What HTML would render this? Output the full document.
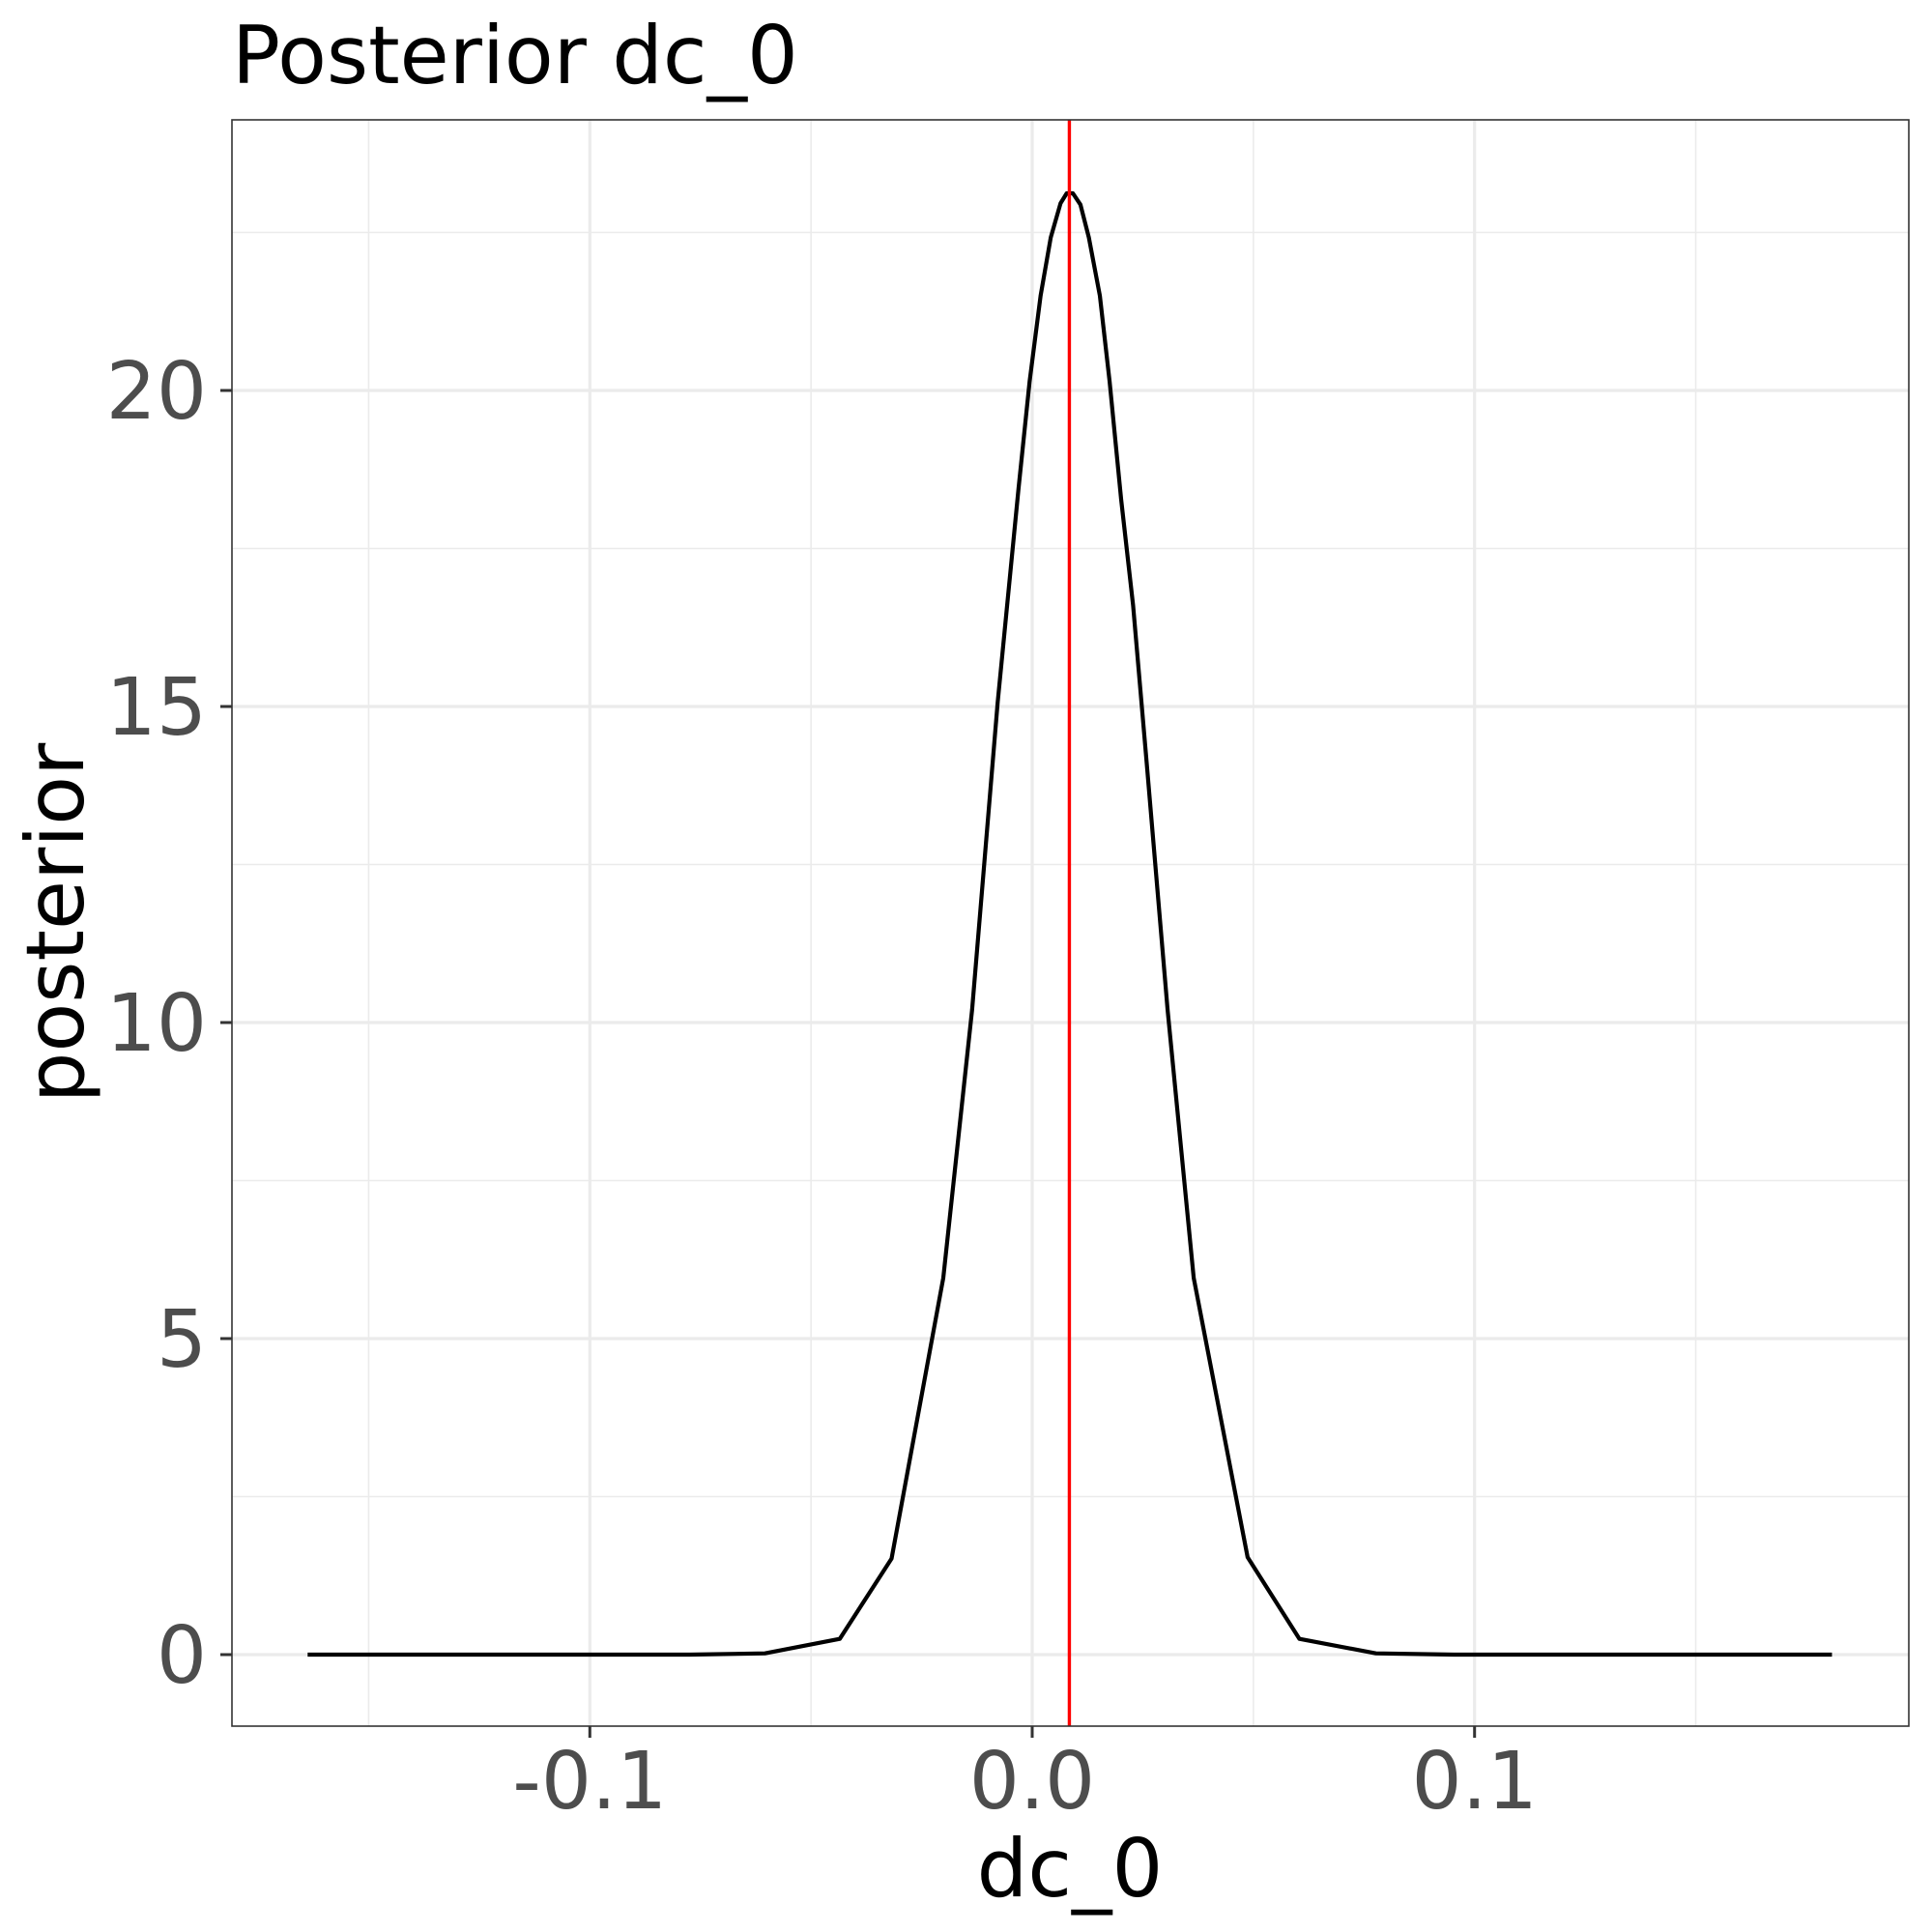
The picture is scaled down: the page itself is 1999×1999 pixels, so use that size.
<!DOCTYPE html>
<html><head><meta charset="utf-8"><style>
html,body{margin:0;padding:0;background:#fff}
svg{display:block;font-family:"DejaVu Sans","Liberation Sans",sans-serif}
</style></head><body>
<svg id="chart" width="1999" height="1999" viewBox="0 0 1999 1999">
<text x="240" y="86" font-size="83" fill="#000">Posterior dc_0</text>
<g id="grid"></g>
<g id="marks"></g>
<rect x="240" y="124" width="1735" height="1662" fill="none" stroke="#333" stroke-width="1.6"/>
<g id="axes"></g>
<text x="1107" y="1962" font-size="83" text-anchor="middle" fill="#000">dc_0</text>
<text transform="translate(86,955) rotate(-90)" font-size="83" text-anchor="middle" fill="#000">posterior</text>
</svg>
<script>
const xValues = [-0.1638,-0.0774,-0.0604,-0.0435,-0.0318,-0.0201,-0.0136,-0.0078,-0.0031,-0.0006,0.0019,0.0042,0.0064,0.0078,0.0092,0.0109,0.0128,0.0153,0.0175,0.0201,0.0228,0.0259,0.0306,0.0365,0.0487,0.0604,0.0777,0.0953,0.1808];
const yValues = [0,0,0.02,0.25,1.52,5.96,10.2,15.07,18.44,20.14,21.5,22.42,22.96,23.12,23.12,22.94,22.42,21.5,20.14,18.28,16.6,14.1,10.2,5.96,1.54,0.25,0.02,0,0];
const markerX = [0.0084];
const xTicks = [-0.1,0,0.1];
const xTickLabels = ["-0.1","0.0","0.1"];
const xMinor = [-0.15,-0.05,0.05,0.15];
const yTicks = [0,5,10,15,20];
const yTickLabels = ["0","5","10","15","20"];
const yMinor = [2.5,7.5,12.5,17.5,22.5];

const NS="http://www.w3.org/2000/svg";
const L=240,R=1975,T=124,B=1786;
function sx(v){return 1068+v*4577;}
function sy(v){return 1712-v*65.4;}
function mk(tag,attrs,parent){const e=document.createElementNS(NS,tag);for(const k in attrs)e.setAttribute(k,attrs[k]);parent.appendChild(e);return e;}
const grid=document.getElementById('grid'),marks=document.getElementById('marks'),axes=document.getElementById('axes');

xMinor.forEach(v=>{const e=mk('line',{x1:sx(v),x2:sx(v),y1:T,y2:B,stroke:'#ebebeb','stroke-width':1.6},grid);

});
yMinor.forEach(v=>{const e=mk('line',{x1:L,x2:R,y1:sy(v),y2:sy(v),stroke:'#ebebeb','stroke-width':1.6},grid);

});
xTicks.forEach((v,i)=>{const e=mk('line',{x1:sx(v),x2:sx(v),y1:T,y2:B,stroke:'#ebebeb','stroke-width':3.2},grid);


const t=mk('line',{x1:sx(v),x2:sx(v),y1:B,y2:B+12,stroke:'#333','stroke-width':3},axes);


const l=mk('text',{x:sx(v),y:1871,'font-size':82,'text-anchor':'middle',fill:'#4d4d4d'},axes);
l.textContent=xTickLabels[i];

});
yTicks.forEach((v,i)=>{const e=mk('line',{x1:L,x2:R,y1:sy(v),y2:sy(v),stroke:'#ebebeb','stroke-width':3.2},grid);


const t=mk('line',{x1:L-12,x2:L,y1:sy(v),y2:sy(v),stroke:'#333','stroke-width':3},axes);


const l=mk('text',{x:214,y:sy(v)+29,'font-size':82,'text-anchor':'end',fill:'#4d4d4d'},axes);
l.textContent=yTickLabels[i];

});

const pts=xValues.map((x,i)=>sx(x).toFixed(1)+','+sy(yValues[i]).toFixed(1)).join(' ');
const pl=mk('polyline',{points:pts,fill:'none',stroke:'#000','stroke-width':4.2,'stroke-linejoin':'round'},marks);


markerX.forEach(v=>{const e=mk('line',{x1:sx(v),x2:sx(v),y1:T,y2:B,stroke:'#ff0000','stroke-width':3.4},marks);

});
</script>
</body></html>
